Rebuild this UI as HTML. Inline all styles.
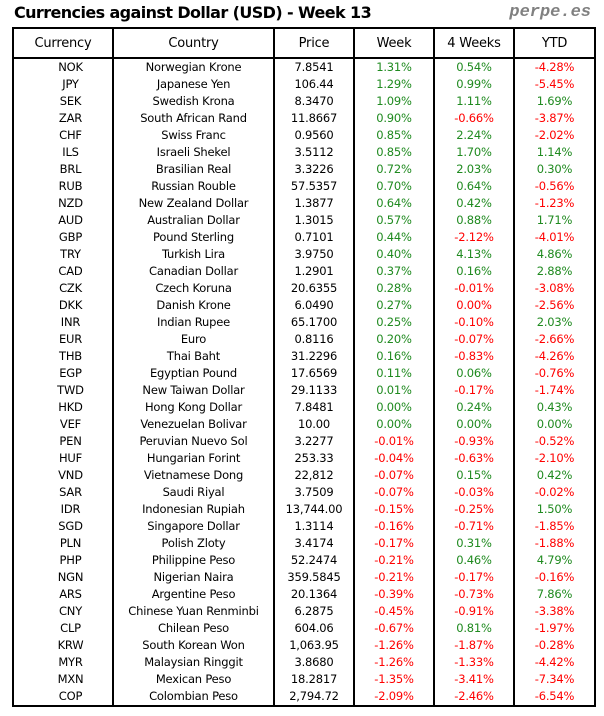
<!DOCTYPE html>
<html><head><style>
body{margin:0;width:604px;height:716px;background:#fff;position:relative;font-family:"DejaVu Sans","Liberation Sans",sans-serif;overflow:hidden}
.t{position:absolute;left:14px;top:3px;font-size:16px;font-weight:bold;color:#000;letter-spacing:-0.6px;font-family:"DejaVu Sans",sans-serif}
.p{position:absolute;right:13px;top:3px;font-size:17px;font-weight:bold;font-style:italic;color:#808080;font-family:"Liberation Mono",monospace}
table{position:absolute;left:12px;top:27px;width:582px;border-collapse:collapse;border:2px solid #000;table-layout:fixed}
td,th{font-weight:normal;text-align:center;font-size:11.5px;padding:0;height:17px;line-height:17px;border-left:2px solid #000;white-space:nowrap;letter-spacing:-0.2px}
th{height:28px;font-size:13px;border-bottom:2px solid #000}
.g{color:#1f8a1f}.r{color:#f00}
td.c{padding-left:15px}
</style></head><body>
<div class="t">Currencies against Dollar (USD) - Week 13</div>
<div class="p">perpe.es</div>
<table>
<colgroup><col style="width:100px"><col style="width:161px"><col style="width:80px"><col style="width:80px"><col style="width:80px"><col style="width:81px"></colgroup>
<tr><th>Currency</th><th>Country</th><th>Price</th><th>Week</th><th>4 Weeks</th><th>YTD</th></tr>
<tr><td class="c">NOK</td><td>Norwegian Krone</td><td>7.8541</td><td class="g">1.31%</td><td class="g">0.54%</td><td class="r">-4.28%</td></tr>
<tr><td class="c">JPY</td><td>Japanese Yen</td><td>106.44</td><td class="g">1.29%</td><td class="g">0.99%</td><td class="r">-5.45%</td></tr>
<tr><td class="c">SEK</td><td>Swedish Krona</td><td>8.3470</td><td class="g">1.09%</td><td class="g">1.11%</td><td class="g">1.69%</td></tr>
<tr><td class="c">ZAR</td><td>South African Rand</td><td>11.8667</td><td class="g">0.90%</td><td class="r">-0.66%</td><td class="r">-3.87%</td></tr>
<tr><td class="c">CHF</td><td>Swiss Franc</td><td>0.9560</td><td class="g">0.85%</td><td class="g">2.24%</td><td class="r">-2.02%</td></tr>
<tr><td class="c">ILS</td><td>Israeli Shekel</td><td>3.5112</td><td class="g">0.85%</td><td class="g">1.70%</td><td class="g">1.14%</td></tr>
<tr><td class="c">BRL</td><td>Brasilian Real</td><td>3.3226</td><td class="g">0.72%</td><td class="g">2.03%</td><td class="g">0.30%</td></tr>
<tr><td class="c">RUB</td><td>Russian Rouble</td><td>57.5357</td><td class="g">0.70%</td><td class="g">0.64%</td><td class="r">-0.56%</td></tr>
<tr><td class="c">NZD</td><td>New Zealand Dollar</td><td>1.3877</td><td class="g">0.64%</td><td class="g">0.42%</td><td class="r">-1.23%</td></tr>
<tr><td class="c">AUD</td><td>Australian Dollar</td><td>1.3015</td><td class="g">0.57%</td><td class="g">0.88%</td><td class="g">1.71%</td></tr>
<tr><td class="c">GBP</td><td>Pound Sterling</td><td>0.7101</td><td class="g">0.44%</td><td class="r">-2.12%</td><td class="r">-4.01%</td></tr>
<tr><td class="c">TRY</td><td>Turkish Lira</td><td>3.9750</td><td class="g">0.40%</td><td class="g">4.13%</td><td class="g">4.86%</td></tr>
<tr><td class="c">CAD</td><td>Canadian Dollar</td><td>1.2901</td><td class="g">0.37%</td><td class="g">0.16%</td><td class="g">2.88%</td></tr>
<tr><td class="c">CZK</td><td>Czech Koruna</td><td>20.6355</td><td class="g">0.28%</td><td class="r">-0.01%</td><td class="r">-3.08%</td></tr>
<tr><td class="c">DKK</td><td>Danish Krone</td><td>6.0490</td><td class="g">0.27%</td><td class="r">0.00%</td><td class="r">-2.56%</td></tr>
<tr><td class="c">INR</td><td>Indian Rupee</td><td>65.1700</td><td class="g">0.25%</td><td class="r">-0.10%</td><td class="g">2.03%</td></tr>
<tr><td class="c">EUR</td><td>Euro</td><td>0.8116</td><td class="g">0.20%</td><td class="r">-0.07%</td><td class="r">-2.66%</td></tr>
<tr><td class="c">THB</td><td>Thai Baht</td><td>31.2296</td><td class="g">0.16%</td><td class="r">-0.83%</td><td class="r">-4.26%</td></tr>
<tr><td class="c">EGP</td><td>Egyptian Pound</td><td>17.6569</td><td class="g">0.11%</td><td class="g">0.06%</td><td class="r">-0.76%</td></tr>
<tr><td class="c">TWD</td><td>New Taiwan Dollar</td><td>29.1133</td><td class="g">0.01%</td><td class="r">-0.17%</td><td class="r">-1.74%</td></tr>
<tr><td class="c">HKD</td><td>Hong Kong Dollar</td><td>7.8481</td><td class="g">0.00%</td><td class="g">0.24%</td><td class="g">0.43%</td></tr>
<tr><td class="c">VEF</td><td>Venezuelan Bolivar</td><td>10.00</td><td class="g">0.00%</td><td class="g">0.00%</td><td class="g">0.00%</td></tr>
<tr><td class="c">PEN</td><td>Peruvian Nuevo Sol</td><td>3.2277</td><td class="r">-0.01%</td><td class="r">-0.93%</td><td class="r">-0.52%</td></tr>
<tr><td class="c">HUF</td><td>Hungarian Forint</td><td>253.33</td><td class="r">-0.04%</td><td class="r">-0.63%</td><td class="r">-2.10%</td></tr>
<tr><td class="c">VND</td><td>Vietnamese Dong</td><td>22,812</td><td class="r">-0.07%</td><td class="g">0.15%</td><td class="g">0.42%</td></tr>
<tr><td class="c">SAR</td><td>Saudi Riyal</td><td>3.7509</td><td class="r">-0.07%</td><td class="r">-0.03%</td><td class="r">-0.02%</td></tr>
<tr><td class="c">IDR</td><td>Indonesian Rupiah</td><td>13,744.00</td><td class="r">-0.15%</td><td class="r">-0.25%</td><td class="g">1.50%</td></tr>
<tr><td class="c">SGD</td><td>Singapore Dollar</td><td>1.3114</td><td class="r">-0.16%</td><td class="r">-0.71%</td><td class="r">-1.85%</td></tr>
<tr><td class="c">PLN</td><td>Polish Zloty</td><td>3.4174</td><td class="r">-0.17%</td><td class="g">0.31%</td><td class="r">-1.88%</td></tr>
<tr><td class="c">PHP</td><td>Philippine Peso</td><td>52.2474</td><td class="r">-0.21%</td><td class="g">0.46%</td><td class="g">4.79%</td></tr>
<tr><td class="c">NGN</td><td>Nigerian Naira</td><td>359.5845</td><td class="r">-0.21%</td><td class="r">-0.17%</td><td class="r">-0.16%</td></tr>
<tr><td class="c">ARS</td><td>Argentine Peso</td><td>20.1364</td><td class="r">-0.39%</td><td class="r">-0.73%</td><td class="g">7.86%</td></tr>
<tr><td class="c">CNY</td><td>Chinese Yuan Renminbi</td><td>6.2875</td><td class="r">-0.45%</td><td class="r">-0.91%</td><td class="r">-3.38%</td></tr>
<tr><td class="c">CLP</td><td>Chilean Peso</td><td>604.06</td><td class="r">-0.67%</td><td class="g">0.81%</td><td class="r">-1.97%</td></tr>
<tr><td class="c">KRW</td><td>South Korean Won</td><td>1,063.95</td><td class="r">-1.26%</td><td class="r">-1.87%</td><td class="r">-0.28%</td></tr>
<tr><td class="c">MYR</td><td>Malaysian Ringgit</td><td>3.8680</td><td class="r">-1.26%</td><td class="r">-1.33%</td><td class="r">-4.42%</td></tr>
<tr><td class="c">MXN</td><td>Mexican Peso</td><td>18.2817</td><td class="r">-1.35%</td><td class="r">-3.41%</td><td class="r">-7.34%</td></tr>
<tr><td class="c">COP</td><td>Colombian Peso</td><td>2,794.72</td><td class="r">-2.09%</td><td class="r">-2.46%</td><td class="r">-6.54%</td></tr>
</table>
</body></html>
